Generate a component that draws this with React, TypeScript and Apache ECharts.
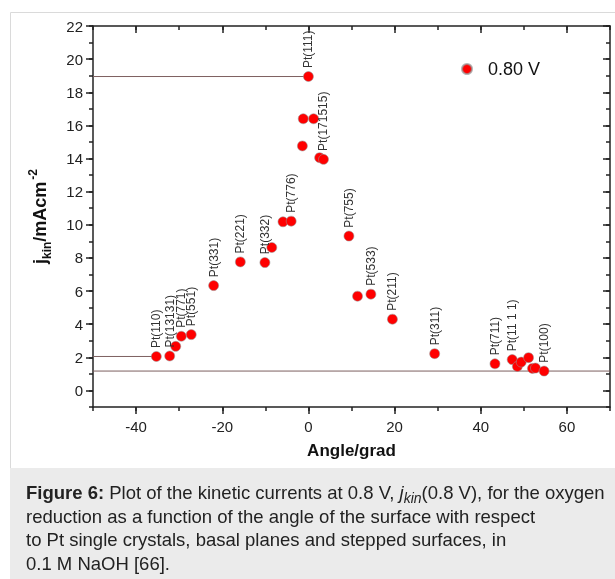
import React, { useEffect, useRef } from "react";
import * as echarts from "echarts";

// Angle of the surface with respect to Pt(111), degrees
const angles = [
  -35.3, -32.2, -30.8, -29.5, -27.2, -22.0, -15.8, -10.1, -8.5, -5.9, -4.0,
  -1.4, -1.2, 1.2, 0.0, 2.6, 3.5, 9.4, 11.4, 14.5, 19.5, 29.3, 43.3, 47.3,
  48.5, 49.4, 51.1, 52.0, 52.7, 54.7,
];
// Kinetic current at 0.80 V, mA cm^-2
const jkin = [
  2.05, 2.08, 2.66, 3.27, 3.37, 6.33, 7.76, 7.72, 8.63, 10.18, 10.22, 14.76,
  16.4, 16.4, 18.95, 14.05, 13.95, 9.32, 5.69, 5.81, 4.3, 2.22, 1.61, 1.86,
  1.45, 1.71, 1.98, 1.33, 1.35, 1.17,
];
const surfaceLabels = [
  "Pt(110)", "Pt(13131)", "", "Pt(771)", "Pt(551)", "Pt(331)", "Pt(221)",
  "Pt(332)", "", "", "Pt(776)", "", "", "", "Pt(111)", "", "Pt(171515)",
  "Pt(755)", "", "Pt(533)", "Pt(211)", "Pt(311)", "Pt(711)", "Pt(11 1 1)",
  "", "", "", "", "", "Pt(100)",
];
// Reference levels (basal planes) and where their guide lines end
const referenceLevels = [18.95, 2.05, 1.17];
const referenceEnds = [0.0, -35.3, 70];

const xMin = -50;
const xMax = 70;
const yMin = -1;
const yMax = 22;
const xMajorTicks = [-40, -20, 0, 20, 40, 60];
const yMajorTicks = [0, 2, 4, 6, 8, 10, 12, 14, 16, 18, 20, 22];
const legendName = "0.80 V";
const xTitle = "Angle/grad";

const FONT = "Arial, 'Liberation Sans', Helvetica, sans-serif";
const AXIS_COLOR = "#222";

export default function App() {
  const ref = useRef<HTMLDivElement>(null);

  useEffect(() => {
    if (!ref.current) return;
    const chart = echarts.init(ref.current, undefined, { renderer: "svg" });

    const axisLine = { show: true, onZero: false, lineStyle: { color: AXIS_COLOR, width: 1.5 } };
    const noLine = { show: false, onZero: false };

    const xCommon = { type: "value", min: xMin, max: xMax, splitLine: { show: false } };
    const yCommon = { type: "value", min: yMin, max: yMax, splitLine: { show: false } };

    const guideSeries = referenceLevels.map((lvl, i) => ({
      type: "line",
      name: "ref" + i,
      data: [
        [xMin, lvl],
        [referenceEnds[i], lvl],
      ],
      symbol: "none",
      silent: true,
      lineStyle: { color: "#7d6060", width: 1 },
      z: 1,
      xAxisIndex: 0,
      yAxisIndex: 0,
    }));

    const option: any = {
      animation: false,
      textStyle: { fontFamily: FONT },
      grid: { left: 93, right: 5, top: 26, bottom: 172, containLabel: false },
      legend: {
        data: [legendName],
        left: 456,
        top: 55,
        icon: "circle",
        itemWidth: 10,
        itemHeight: 10,
        itemGap: 0,
        textStyle: {
          fontSize: 18,
          color: "#111",
          fontFamily: FONT,
          padding: [0, 0, 0, 11],
        },
      },
      xAxis: [
        {
          ...xCommon,
          position: "bottom",
          axisLine,
          axisTick: {
            show: true,
            inside: false,
            length: 7,
            customValues: xMajorTicks,
            lineStyle: { color: AXIS_COLOR, width: 1.5 },
          },
          axisLabel: {
            customValues: xMajorTicks,
            fontSize: 15,
            color: AXIS_COLOR,
            margin: 12,
            fontFamily: FONT,
          },
          name: xTitle,
          nameLocation: "middle",
          nameGap: 35,
          nameTextStyle: {
            fontSize: 17,
            fontWeight: "bold",
            color: "#111",
            fontFamily: FONT,
          },
        },
        {
          ...xCommon,
          position: "bottom",
          interval: 10,
          axisLine: noLine,
          axisLabel: { show: false },
          axisTick: {
            show: true,
            inside: false,
            length: 4,
            lineStyle: { color: AXIS_COLOR, width: 1.5 },
          },
        },
        {
          ...xCommon,
          position: "top",
          axisLine,
          axisLabel: { show: false },
          axisTick: {
            show: true,
            inside: true,
            length: 7,
            customValues: xMajorTicks,
            lineStyle: { color: AXIS_COLOR, width: 1.5 },
          },
        },
        {
          ...xCommon,
          position: "top",
          interval: 10,
          axisLine: noLine,
          axisLabel: { show: false },
          axisTick: {
            show: true,
            inside: true,
            length: 4,
            lineStyle: { color: AXIS_COLOR, width: 1.5 },
          },
        },
      ],
      yAxis: [
        {
          ...yCommon,
          position: "left",
          axisLine,
          axisTick: {
            show: true,
            inside: false,
            length: 7,
            customValues: yMajorTicks,
            lineStyle: { color: AXIS_COLOR, width: 1.5 },
          },
          axisLabel: {
            customValues: yMajorTicks,
            fontSize: 15,
            color: AXIS_COLOR,
            margin: 10,
            fontFamily: FONT,
          },
          name: "{j|j}{sub|kin}{m|/mAcm}{sup|-2}",
          nameLocation: "middle",
          nameRotate: 90,
          nameGap: 40,
          nameTextStyle: {
            fontFamily: FONT,
            fontWeight: "bold",
            color: "#111",
            rich: {
              j: { fontSize: 18, fontWeight: "bold", lineHeight: 26, fontFamily: FONT, color: "#111" },
              m: { fontSize: 18, fontWeight: "bold", lineHeight: 26, fontFamily: FONT, color: "#111" },
              sub: {
                fontSize: 12,
                fontWeight: "bold",
                lineHeight: 12,
                verticalAlign: "bottom",
                fontFamily: FONT,
                color: "#111",
              },
              sup: {
                fontSize: 12,
                fontWeight: "bold",
                lineHeight: 12,
                verticalAlign: "top",
                fontFamily: FONT,
                color: "#111",
                padding: [0, 0, 0, 2],
              },
            },
          },
        },
        {
          ...yCommon,
          position: "left",
          interval: 1,
          axisLine: noLine,
          axisLabel: { show: false },
          axisTick: {
            show: true,
            inside: false,
            length: 4,
            lineStyle: { color: AXIS_COLOR, width: 1.5 },
          },
        },
        {
          ...yCommon,
          position: "right",
          axisLine,
          axisLabel: { show: false },
          axisTick: {
            show: true,
            inside: true,
            length: 7,
            customValues: yMajorTicks,
            lineStyle: { color: AXIS_COLOR, width: 1.5 },
          },
        },
        {
          ...yCommon,
          position: "right",
          interval: 1,
          axisLine: noLine,
          axisLabel: { show: false },
          axisTick: {
            show: true,
            inside: true,
            length: 4,
            lineStyle: { color: AXIS_COLOR, width: 1.5 },
          },
        },
      ],
      series: [
        ...guideSeries,
        {
          type: "scatter",
          name: legendName,
          xAxisIndex: 0,
          yAxisIndex: 0,
          symbol: "circle",
          symbolSize: 10,
          z: 3,
          itemStyle: {
            color: "#ff0000",
            borderColor: "rgba(150,150,150,0.7)",
            borderWidth: 0.8,
            opacity: 1,
          },
          label: {
            show: false,
            position: "top",
            distance: 3,
            rotate: 90,
            align: "left",
            verticalAlign: "middle",
            fontSize: 12,
            color: "#333",
            fontFamily: FONT,
          },
          data: angles.map((a, i) => ({
            value: [a, jkin[i]],
            label: surfaceLabels[i]
              ? { show: true, formatter: surfaceLabels[i] }
              : { show: false },
          })),
        },
      ],
      graphic: [
        {
          type: "rect",
          z: -10,
          silent: true,
          shape: { x: 10.5, y: 12.5, width: 700, height: 700 },
          style: { fill: "#ffffff", stroke: "#dadada", lineWidth: 1 },
        },
        {
          type: "rect",
          z: -9,
          silent: true,
          shape: { x: 10, y: 468, width: 700, height: 200 },
          style: { fill: "#ebebeb" },
        },
        {
          type: "text",
          z: 10,
          left: 26,
          top: 481,
          style: {
            text:
              "{b|Figure 6:} Plot of the kinetic currents at 0.8 V, {i|j}{is|kin}(0.8 V), for the oxygen\n" +
              "reduction as a function of the angle of the surface with respect\n" +
              "to Pt single crystals, basal planes and stepped surfaces, in\n" +
              "0.1 M NaOH [66].",
            fontSize: 18.5,
            fontFamily: FONT,
            fill: "#222",
            lineHeight: 23.5,
            rich: {
              b: { fontSize: 18.5, fontWeight: "bold", fontFamily: FONT, fill: "#222", lineHeight: 23.5 },
              i: { fontSize: 18.5, fontStyle: "italic", fontFamily: FONT, fill: "#222", lineHeight: 23.5 },
              is: {
                fontSize: 14,
                fontStyle: "italic",
                fontFamily: FONT,
                fill: "#222",
                lineHeight: 20,
                verticalAlign: "bottom",
              },
            },
          },
        },
      ],
    };

    chart.setOption(option);
    return () => chart.dispose();
  }, []);

  return (
    <div
      ref={ref}
      style={{ position: "fixed", left: 0, top: 0, width: 615, height: 579 }}
    />
  );
}
